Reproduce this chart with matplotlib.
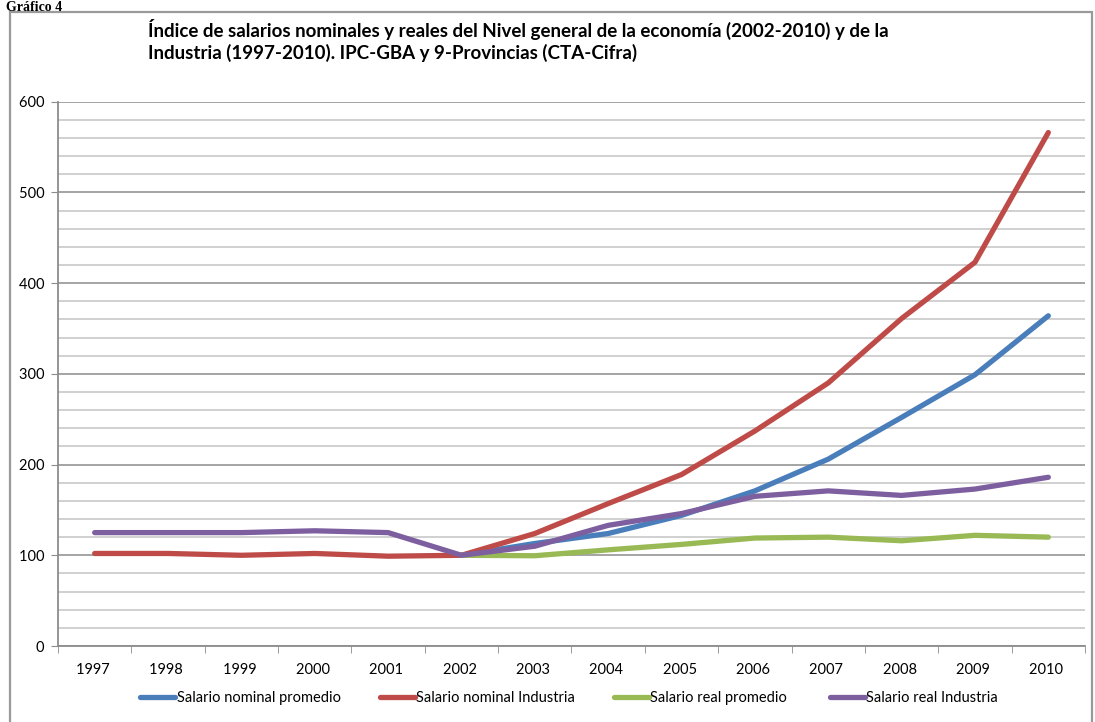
import matplotlib
matplotlib.use("Agg")
import matplotlib.pyplot as plt
import numpy as np
from matplotlib.ticker import MultipleLocator
from matplotlib.patches import Rectangle

years = ["1997", "1998", "1999", "2000", "2001", "2002", "2003",
         "2004", "2005", "2006", "2007", "2008", "2009", "2010"]
nominal_promedio = [None, None, None, None, None, 100, 113, 124, 144, 171, 206, 252, 299, 364]
nominal_industria = [102, 102, 100, 102, 99, 100, 124, 157, 189, 237, 290, 361, 423, 566]
real_promedio = [None, None, None, None, None, 100, 99.5, 106, 112, 119, 120, 116, 122, 120]
real_industria = [125, 125, 125, 127, 125, 100, 110, 133, 146, 165, 171, 166, 173, 186]

series = [
    ("Salario nominal promedio ", nominal_promedio, "#4a7ebb"),
    ("Salario nominal Industria ", nominal_industria, "#be4b48"),
    ("Salario real promedio  ", real_promedio, "#98b954"),
    ("Salario real Industria ", real_industria, "#7d5fa0"),
]

title = ("Índice de salarios nominales y reales del Nivel general de la economía (2002-2010) y de la\n"
         "Industria (1997-2010). IPC-GBA y 9-Provincias (CTA-Cifra)")

plt.rcParams['font.family'] = ['Lato', 'DejaVu Sans']

fig = plt.figure(figsize=(10.95, 7.22), dpi=100)
W, H = 1095, 722
ax = fig.add_axes([58 / W, 1 - 646 / H, (1085 - 58) / W, (646 - 101.7) / H])

x = np.arange(len(years))
for name, vals, col in series:
    y = np.array([np.nan if v is None else v for v in vals], dtype=float)
    ax.plot(x, y, color=col, lw=3.8, solid_capstyle='round', solid_joinstyle='round',
            label=name, zorder=3)

ax.set_xlim(-0.5, len(years) - 0.5)
ax.set_ylim(0, 600)
ax.yaxis.set_major_locator(MultipleLocator(100))
ax.yaxis.set_minor_locator(MultipleLocator(20))
ax.grid(axis='y', which='major', color='#8c8c8c', lw=1.1, zorder=1)
ax.grid(axis='y', which='minor', color='#c4c4c4', lw=1.1, zorder=1)
ax.set_yticks(np.arange(0, 601, 100))
ax.set_yticklabels([str(v) + " " for v in range(0, 601, 100)])
ax.tick_params(axis='y', which='major', length=5, color='#8c8c8c', labelsize=10.5, pad=2)
ax.tick_params(axis='y', which='minor', length=0)

ax.set_xticks(x)
ax.set_xticklabels([yr + " " for yr in years])
ax.set_xticks(np.arange(-0.5, len(years), 1), minor=True)
ax.tick_params(axis='x', which='major', length=0, labelsize=10.5, pad=12)
ax.tick_params(axis='x', which='minor', length=5, color='#8c8c8c')

for s in ['top', 'right']:
    ax.spines[s].set_visible(False)
for s in ['left', 'bottom']:
    ax.spines[s].set_color('#8c8c8c')
    ax.spines[s].set_linewidth(1.3)

leg = fig.legend(loc='center', bbox_to_anchor=(571 / W, 1 - 698 / H), ncol=4, frameon=False,
                 fontsize=10.5, handlelength=2.4, handletextpad=0.1, columnspacing=2.4)

fig.text(148 / W, 1 - 19 / H, title, ha='left', va='top', fontsize=13.5,
         fontweight='bold', linespacing=1.25)

fig.text(6 / W, 1 - 1 / H, "Gráfico 4", ha='left', va='top', fontsize=10,
         fontweight='bold', family='Liberation Serif')

fig.patches.append(Rectangle((10 / W, -0.05), (1092 - 10) / W, (1 - 12 / H) + 0.05,
                             transform=fig.transFigure, fill=False, edgecolor='#9a9a9a',
                             lw=1.6, zorder=0))

fig.savefig("out.png", dpi=100)
